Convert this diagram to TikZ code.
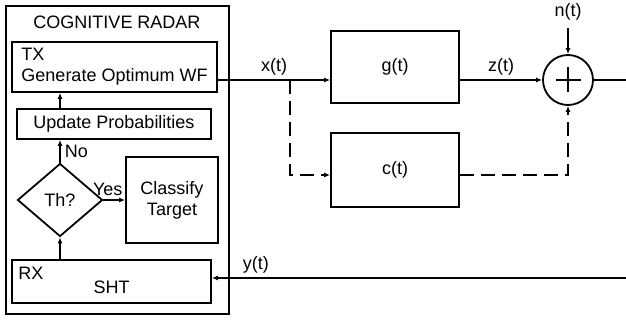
\documentclass[tikz,border=0pt]{standalone}
\usepackage{fontspec}
\setmainfont{Liberation Sans}
\usetikzlibrary{arrows.meta,shapes.geometric}

\tikzset{
  box/.style={draw, line width=1.8pt, inner sep=0},
  arr/.style={line width=1.8pt, -{Latex[length=6pt,width=5pt]}},
  dasharr/.style={arr, dash pattern=on 14pt off 7pt},
  lbl/.style={inner sep=4pt}
}

\begin{document}
\begin{tikzpicture}[x=1pt, y=-1pt, font=\fontsize{18}{21}\selectfont]
\useasboundingbox (0,0) rectangle (626,320);
                \node[box, minimum width=223, minimum height=308](radar) at (117.5,160) {};
                \node(title) at (117,22) {COGNITIVE RADAR};
                \node[box, minimum width=205, minimum height=50, align=left](tx) at (114.5,67) {TX\\Generate Optimum WF};
                \node[box, minimum width=194, minimum height=30](upd) at (114,124) {Update Probabilities};
                \node[box, diamond, minimum width=85, minimum height=73](th) at (60,200) {Th?};
                \node[box, minimum width=92, minimum height=86, align=center](cls) at (172,200) {Classify\\Target};
                \node[box, minimum width=199, minimum height=43,
                      label={[anchor=north west, xshift=7, yshift=-8, inner sep=0]north west:RX},
                      label={[anchor=center, yshift=-5.5, inner sep=0]center:SHT}](rx) at (111.5,281.5) {};
                \node[box, minimum width=128, minimum height=72](g) at (395,67) {g(t)};
                \node[box, minimum width=128, minimum height=74](c) at (395,170) {c(t)};
                \node[box, circle, minimum size=50](sum) at (568,80) {};
\draw[line width=1.8pt] ([xshift=-12.5]sum.center) -- ([xshift=12.5]sum.center)
                        ([yshift=-12.5]sum.center) -- ([yshift=12.5]sum.center);
                \node(nt) at (568,12) {n(t)};
\coordinate (xt) at (290,80);
\coordinate (out) at (626,80);
\coordinate (yin) at (626,278);

% inside the radar
\draw[arr] (th |- upd.north) -- (th |- tx.south);
\draw[arr] (th.north) -- node[right, lbl]{No} (th |- upd.south);
\draw[arr] (th.east) -- node[above, pos=0.2, inner sep=3pt]{Yes} (cls.west);
\draw[arr] (th |- rx.north) -- (th.south);

% channel
\draw[arr] (tx.east |- xt) -- node[above, lbl]{x(t)} (g.west |- xt);
\draw[dasharr] (xt) |- ([yshift=-5]c.west);
\draw[arr] (g.east |- sum) -- node[above, lbl]{z(t)} (sum.west);
\draw[dasharr] ([yshift=-5]c.east) -| (sum.south);
\draw[arr] ([yshift=-4]nt.south) -- (sum.north);
\draw[line width=1.8pt] (sum.east) -- (out);
\draw[arr] (yin) -- node[above, lbl, pos=0.894]{y(t)} (rx.east |- yin);

        \end{tikzpicture}
\end{document}
